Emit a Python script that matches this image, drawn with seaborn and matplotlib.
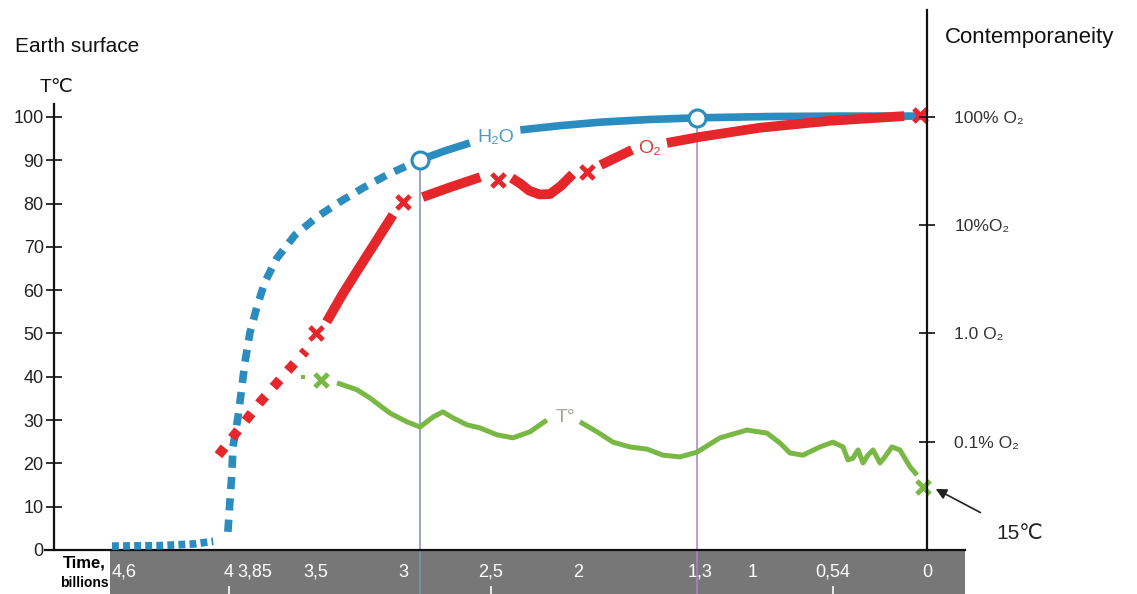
import numpy as np
import pandas as pd
import matplotlib.pyplot as plt
from matplotlib.patches import Rectangle
from matplotlib.ticker import NullLocator
import seaborn as sns

sns.set_style("white")
plt.rcParams['font.family'] = ['Liberation Sans', 'DejaVu Sans']

# time axis (billions of years ago) and left temperature axis
time_ticks = [4.6, 4.0, 3.85, 3.5, 3.0, 2.5, 2.0, 1.3, 1.0, 0.54, 0.0]
time_labels = ["4,6", "4", "3,85", "3,5", "3", "2,5", "2", "1,3", "1", "0,54", "0"]
temp_ticks = list(range(0, 101, 10))
o2_ticks = [100, 10, 1, 0.1]
o2_labels = ["100% O₂", "10%O₂", "1.0 O₂", "0.1% O₂"]

# H2O curve
h2o_early_t = [4.67, 4.40, 4.20, 4.09]
h2o_early_v = [0.9, 1.0, 1.4, 2.0]
h2o_rise_t = [4.006, 3.994, 3.983, 3.977, 3.948, 3.926, 3.908, 3.88, 3.84, 3.794,
              3.725, 3.622, 3.496, 3.364, 3.232, 3.095, 2.905]
h2o_rise_v = [4.2, 11.5, 17.8, 23.8, 30.7, 37.6, 43.4, 50.1, 56.1, 61.9,
              67.4, 72.7, 76.9, 80.4, 83.6, 86.6, 90.1]
h2o_a_t = [2.905, 2.76, 2.62]
h2o_a_v = [90.1, 92.2, 94.0]
h2o_b_t = [2.33, 2.1, 1.87, 1.6, 1.318, 0.9, 0.5, 0.0]
h2o_b_v = [97.0, 98.0, 98.8, 99.4, 99.8, 100.1, 100.2, 100.2]
circle_t = [2.905, 1.318]
circle_v = [90.1, 99.8]

# O2 curve
o2_dot_t = [4.06, 3.82, 3.65, 3.56]
o2_dot_v = [21.9, 34.2, 42.0, 46.0]
o2_s1_t = [3.44, 3.347, 3.25, 3.06]
o2_s1_v = [52.7, 59.2, 65.4, 77.4]
o2_s2_t = [2.89, 2.73, 2.56]
o2_s2_v = [81.5, 83.8, 86.1]
o2_s3_t = [2.38, 2.33, 2.28, 2.22, 2.16, 2.10, 2.03]
o2_s3_v = [85.9, 84.6, 83.0, 82.1, 82.2, 84.0, 86.8]
o2_s4_t = [1.87, 1.69]
o2_s4_v = [88.9, 92.4]
o2_s5_t = [1.49, 1.30, 0.96, 0.56, 0.13]
o2_s5_v = [94.0, 95.4, 97.5, 99.1, 100.2]
o2_x_t = [3.5, 3.0, 2.46, 1.95, 0.04]
o2_x_v = [50.1, 80.4, 85.5, 87.3, 100.5]

# temperature curve
temp_a_t = [3.381, 3.266, 3.192, 3.077, 2.980, 2.905, 2.831, 2.774, 2.716, 2.636,
            2.562, 2.464, 2.372, 2.275, 2.178]
temp_a_v = [38.6, 37.0, 35.1, 31.6, 29.6, 28.4, 30.7, 31.9, 30.5, 28.9,
            28.2, 26.6, 25.9, 27.3, 30.0]
temp_b_t = [1.989, 1.891, 1.799, 1.702, 1.605, 1.513, 1.415, 1.318, 1.186, 1.032,
            0.917, 0.842, 0.785, 0.711, 0.613, 0.539, 0.481, 0.453, 0.424, 0.395,
            0.367, 0.338, 0.309, 0.269, 0.241, 0.201, 0.155, 0.097, 0.057]
temp_b_v = [29.6, 27.3, 24.9, 23.8, 23.3, 21.9, 21.5, 22.6, 25.9, 27.7,
            27.0, 24.7, 22.4, 21.9, 23.8, 24.9, 23.8, 20.8, 21.2, 23.1,
            20.1, 21.9, 23.1, 20.1, 21.5, 23.8, 23.1, 19.2, 17.3]
temp_dot_t = [3.576]
temp_dot_v = [40.0]
temp_x_t = [3.47, 0.02]
temp_x_v = [39.3, 14.5]

blue = "#2a8cbf"
red = "#e5262a"
green = "#79b845"

fig = plt.figure(figsize=(11.37, 5.94), dpi=100)
ax = fig.add_axes([45 / 1137, 44 / 594, 920 / 1137, 540 / 594])


def seg(t, v, color, lw, ls="-", z=3):
    sns.lineplot(x=t, y=v, ax=ax, color=color, linewidth=lw, linestyle=ls,
                 sort=False, estimator=None, dash_capstyle="butt",
                 solid_capstyle="butt", solid_joinstyle="round", zorder=z)


seg(h2o_early_t, h2o_early_v, blue, 5.5, (0, (0.9, 0.55)))
seg(h2o_rise_t, h2o_rise_v, blue, 5.5, (0, (1.6, 1.2)))
seg(h2o_a_t, h2o_a_v, blue, 5.5)
seg(h2o_b_t, h2o_b_v, blue, 5.5)

seg(o2_dot_t, o2_dot_v, red, 7, (0, (1.0, 1.25)), z=4)
for t, v in [(o2_s1_t, o2_s1_v), (o2_s2_t, o2_s2_v), (o2_s3_t, o2_s3_v),
             (o2_s4_t, o2_s4_v), (o2_s5_t, o2_s5_v)]:
    seg(t, v, red, 7, z=4)

seg(temp_a_t, temp_a_v, green, 3.6)
seg(temp_b_t, temp_b_v, green, 3.6)

sns.scatterplot(x=temp_dot_t, y=temp_dot_v, ax=ax, color=green, marker="s", s=12,
                linewidth=0, zorder=5)
sns.scatterplot(x=o2_x_t, y=o2_x_v, ax=ax, color=red, marker="x", s=90,
                linewidth=3.5, zorder=6)
sns.scatterplot(x=temp_x_t, y=temp_x_v, ax=ax, color=green, marker="x", s=90,
                linewidth=3.5, zorder=6)

# reference verticals from the circles down through the time band
ax.vlines(circle_t[0], -10.3, circle_v[0], color="#7f8db5", lw=1.1, zorder=2, clip_on=False)
ax.vlines(circle_t[1], -10.3, circle_v[1], color="#b07fc6", lw=1.1, zorder=2, clip_on=False)
sns.scatterplot(x=circle_t, y=circle_v, ax=ax, color="white", edgecolor=blue,
                s=150, linewidth=2.2, zorder=7)

ax.text(2.47, 95.3, "H₂O", color="#4a9cc6", fontsize=14, ha="center", va="center")
ax.text(1.59, 92.8, "O₂", color="#e0393b", fontsize=14, ha="center", va="center")
ax.text(2.07, 30.7, "T°", color="#9aa894", fontsize=14, ha="center", va="center")
ax.annotate("15℃", xy=(-0.05, 14.1), xytext=(-0.53, 3.9), fontsize=15,
            ha="center", va="center", color="#222222", annotation_clip=False,
            arrowprops=dict(arrowstyle="-|>", color="#222222", lw=1.2,
                            mutation_scale=16, shrinkA=12, shrinkB=0))

ax.set_xlim(5.054, -0.218)
ax.set_ylim(0, 124.7)
ax.set_xlabel("")
ax.set_ylabel("")
ax.set_xticks(time_ticks)
ax.set_xticklabels(time_labels)
ax.set_yticks(temp_ticks)
ax.tick_params(axis="x", direction="inout", length=12, width=1.3, labelsize=13,
               labelcolor="white", pad=4, color="#222222")
ax.tick_params(axis="y", direction="inout", length=11.5, width=1.3, labelsize=13,
               labelcolor="#222222", pad=2, color="#222222")
ax.spines["left"].set_position(("data", 5.0))
ax.spines["left"].set_bounds(0, 103)
for s in ["left", "bottom"]:
    ax.spines[s].set_linewidth(1.6)
    ax.spines[s].set_color("#111111")
ax.spines["top"].set_visible(False)
ax.spines["right"].set_visible(False)

ax2 = ax.twinx()
ax2.set_yscale("log")
ax2.set_ylim(0.01, 968)
ax2.set_yticks(o2_ticks)
ax2.set_yticklabels(o2_labels)
ax2.yaxis.set_minor_locator(NullLocator())
ax2.spines["right"].set_position(("data", 0))
ax2.spines["right"].set_linewidth(1.6)
ax2.spines["right"].set_color("#111111")
for s in ["left", "top", "bottom"]:
    ax2.spines[s].set_visible(False)
ax2.tick_params(axis="y", direction="inout", length=11.5, width=1.3, labelsize=12.5,
                labelcolor="#333333", pad=14, color="#222222")

# grey time band
ax.add_patch(Rectangle((110 / 1137, 0), 855 / 1137, 44 / 594, transform=fig.transFigure,
                       facecolor="#777777", edgecolor="none", clip_on=False, zorder=0.2))
for t in [4.0, 2.5, 0.54]:
    ax.vlines(t, -10.3, -8.4, color="white", lw=1.2, clip_on=False, zorder=2)

fig.text(15 / 1137, 1 - 47 / 594, "Earth surface", fontsize=15, va="center", color="#111111")
fig.text(56 / 1137, 1 - 88 / 594, "T℃", fontsize=14, va="center", ha="center", color="#111111")
fig.text(945 / 1137, 1 - 38 / 594, "Contemporaneity", fontsize=16, va="center", color="#111111")
fig.text(84 / 1137, 1 - 563 / 594, "Time,", fontsize=12, fontweight="bold",
         ha="center", va="center", color="black")
fig.text(84 / 1137, 1 - 583 / 594, "billions", fontsize=10, fontweight="bold",
         ha="center", va="center", color="black")

fig.savefig("out.png", dpi=100)
